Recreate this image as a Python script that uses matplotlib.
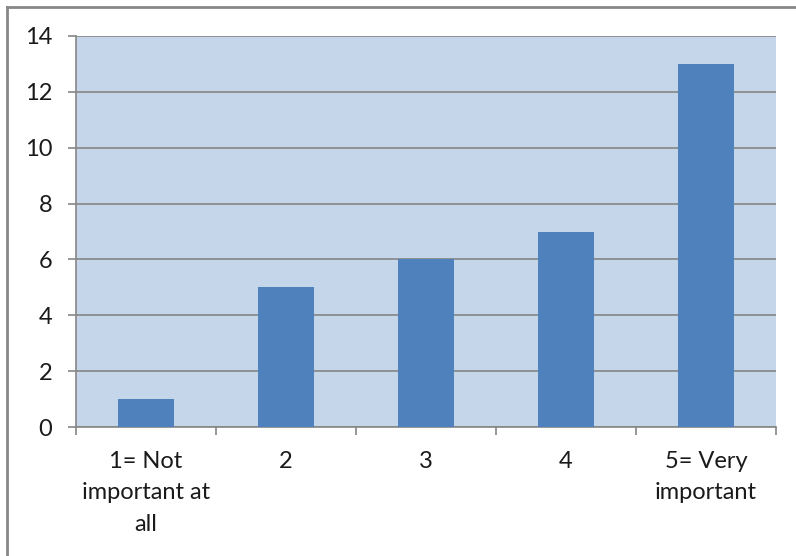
import matplotlib
matplotlib.use("Agg")
import matplotlib.pyplot as plt
from matplotlib.lines import Line2D
import numpy as np

categories = ["1= Not\nimportant at\nall", "2", "3", "4", "5= Very\nimportant"]
counts = [1, 5, 6, 7, 13]
y_ticks = [0, 2, 4, 6, 8, 10, 12, 14]

BAR = "#4F81BD"
PLOT_BG = "#C5D5EA"
GRID = "#868686"

plt.rcParams["font.family"] = ["Lato", "DejaVu Sans"]

fig = plt.figure(figsize=(7.96, 5.56), dpi=100)
ax = fig.add_axes([76 / 796, 1 - 427 / 556, 700 / 796, 391 / 556])
ax.set_facecolor(PLOT_BG)

x = np.arange(len(categories))
ax.bar(x, counts, width=0.4, color=BAR, zorder=3)

ax.set_xlim(-0.5, len(categories) - 0.5)
ax.set_ylim(0, 14)
ax.set_yticks(y_ticks)
ax.yaxis.grid(True, color=GRID, lw=1.2, zorder=1)

# category labels centred, tick marks on the boundaries
ax.set_xticks(x)
ax.set_xticklabels(categories, fontsize=17, color="#1a1a1a", linespacing=1.62)
ax.tick_params(axis="x", length=0, pad=17)
ax.set_xticks(np.arange(-0.5, len(categories)), minor=True)
ax.tick_params(axis="x", which="minor", length=6, color=GRID, width=1.2)
ax.tick_params(axis="y", length=6, color=GRID, width=1.2, pad=11,
               labelsize=17, labelcolor="#1a1a1a")

for side in ("top", "right"):
    ax.spines[side].set_visible(False)
for side in ("left", "bottom"):
    ax.spines[side].set_color(GRID)
    ax.spines[side].set_linewidth(1.2)

# outer chart border (only left and top are visible in the picture)
fig.add_artist(Line2D([6.5 / 796, 6.5 / 796], [0, 1 - 6.5 / 556],
                      transform=fig.transFigure, color="#888888", lw=2))
fig.add_artist(Line2D([6.5 / 796, 1], [1 - 6.5 / 556, 1 - 6.5 / 556],
                      transform=fig.transFigure, color="#888888", lw=2))

fig.savefig("out.png", dpi=100)
